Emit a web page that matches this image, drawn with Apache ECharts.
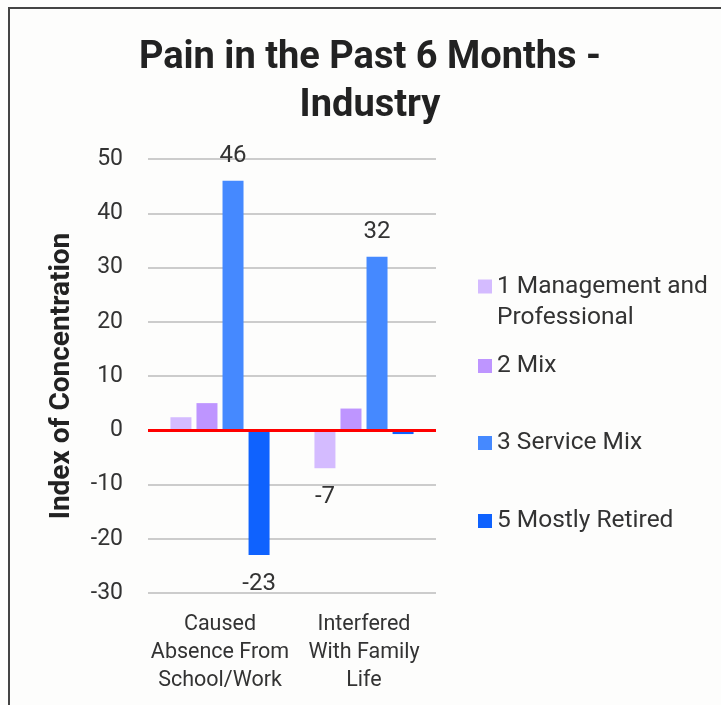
<!DOCTYPE html>
<html>
<head>
<meta charset="utf-8">
<script src="https://cdn.jsdelivr.net/npm/echarts@6/dist/echarts.min.js"></script>
<style>
  html, body { margin: 0; padding: 0; width: 721px; height: 705px; overflow: hidden; background: #fdfdfc; }
  #chart { position: absolute; left: 0; top: 0; width: 740px; height: 705px; }
  #frame { position: absolute; left: 8px; top: 7px; width: 730px; height: 720px;
           border-left: 2px solid #444; border-top: 2px solid #444; pointer-events: none; }
</style>
</head>
<body>
<div id="chart"></div>
<div id="frame"></div>
<script>
// Pain in the past 6 months, index of concentration by industry group
const categories = ['Caused\nAbsence From\nSchool/Work', 'Interfered\nWith Family\nLife'];
const seriesNames = ['1 Management and Professional', '2 Mix', '3 Service Mix', '5 Mostly Retired'];
const mgmtValues = [2.4, -7];
const mixValues = [5, 4];
const serviceValues = [46, 32];
const retiredValues = [-23, -0.7];
// which bars carry a value label
const labelled = [[false, true], [false, false], [true, true], [true, false]];
const yTicks = { min: -30, max: 50, interval: 10 };

const colors = ['#d4bbff', '#be95ff', '#4589ff', '#0f62fe'];
const font = 'Roboto, "Noto Sans", sans-serif';
const textColor = '#333333';

const allValues = [mgmtValues, mixValues, serviceValues, retiredValues];

const series = allValues.map((vals, si) => ({
  name: seriesNames[si],
  type: 'bar',
  barWidth: 21,
  barGap: '24%',
  itemStyle: { color: colors[si] },
  data: vals.map((v, ci) => ({
    value: v,
    label: {
      show: labelled[si][ci],
      position: v >= 0 ? 'top' : 'bottom',
      distance: v >= 0 ? 13 : 17,
      fontSize: 24,
      fontFamily: font,
      color: textColor,
      formatter: (p) => String(Math.round(p.value))
    }
  }))
}));

// red zero baseline
series[0].markLine = {
  silent: true,
  symbol: 'none',
  label: { show: false },
  lineStyle: { color: '#ff0000', width: 3, type: 'solid' },
  data: [{ yAxis: 0 }],
  z: 10
};

// one legend per entry so each row sits at its own height
const legendTops = [240, 352, 429, 507];
const legends = seriesNames.map((name, i) => {
  const multi = i === 0;
  return {
    data: [name],
    orient: 'vertical',
    left: 478,
    top: legendTops[i],
    padding: 0,
    itemWidth: 14,
    itemHeight: 14,
    icon: 'rect',
    selectedMode: false,
    formatter: multi ? () => '\n1 Management and\nProfessional' : undefined,
    textStyle: {
      fontSize: 24.5,
      fontFamily: font,
      color: textColor,
      lineHeight: multi ? 31 : 28
    }
  };
});

const chart = echarts.init(document.getElementById('chart'), null, { renderer: 'canvas' });
chart.setOption({
  animation: false,
  backgroundColor: 'transparent',
  title: {
    text: 'Pain in the Past 6 Months -\nIndustry',
    left: 'center',
    top: 29,
    textStyle: {
      fontSize: 38,
      fontWeight: 'bold',
      fontFamily: font,
      color: '#222222',
      lineHeight: 48
    }
  },
  legend: legends,
  grid: { left: 148, top: 159, width: 288, height: 434, containLabel: false, outerBoundsMode: 'none' },
  xAxis: {
    type: 'category',
    data: categories,
    axisTick: { show: false },
    axisLine: { show: false, onZero: false },
    axisLabel: {
      interval: 0,
      fontSize: 21.5,
      fontFamily: font,
      color: textColor,
      lineHeight: 28,
      margin: 18,
      align: 'center'
    }
  },
  yAxis: {
    type: 'value',
    min: yTicks.min,
    max: yTicks.max,
    interval: yTicks.interval,
    name: 'Index of Concentration',
    nameLocation: 'middle',
    nameGap: 72,
    nameTextStyle: { fontSize: 28, fontWeight: 'bold', fontFamily: font, color: '#222222' },
    axisLine: { show: false },
    axisTick: { show: false },
    axisLabel: { fontSize: 23, fontFamily: font, color: textColor, margin: 25 },
    splitLine: { lineStyle: { color: '#cccccc', width: 2 } }
  },
  series: series
});
</script>
</body>
</html>
